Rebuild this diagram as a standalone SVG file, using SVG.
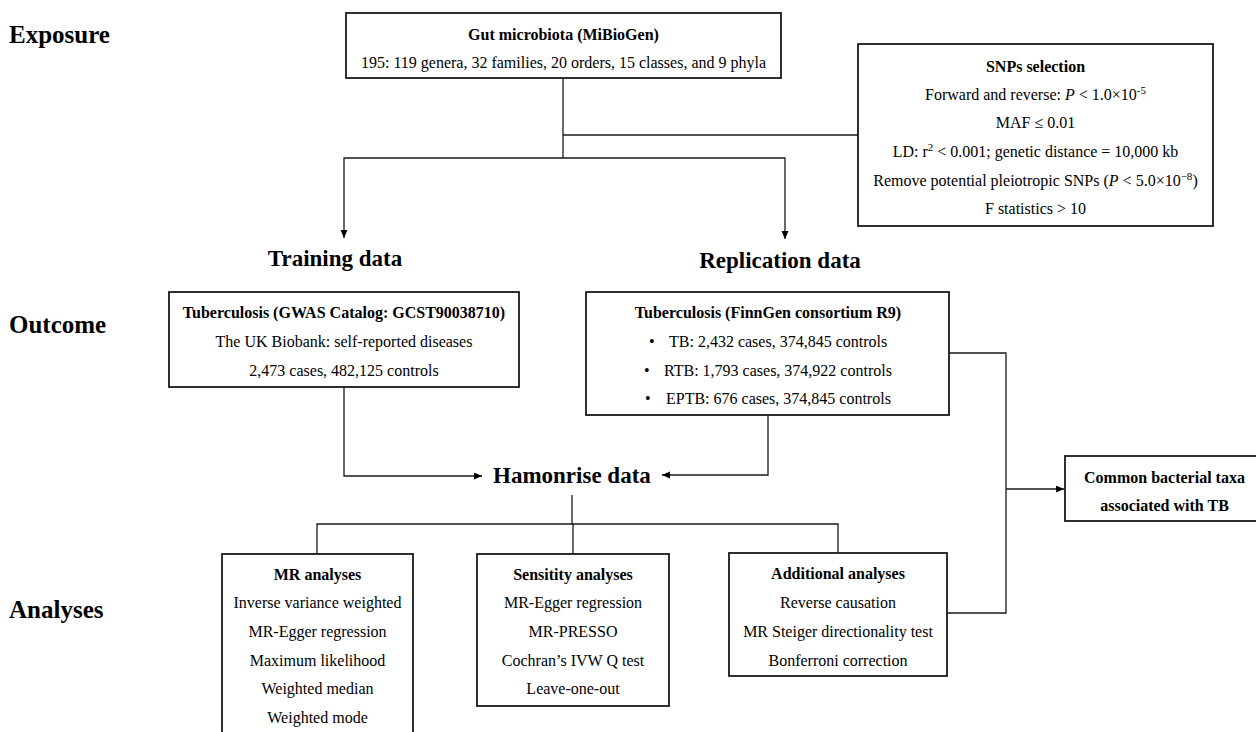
<svg xmlns="http://www.w3.org/2000/svg" width="1256" height="732" viewBox="0 0 1256 732">
<style>
text{font-family:"Liberation Serif","Times New Roman",serif;fill:#000}
.sec{font-size:25px;font-weight:bold}
.hd{font-size:23px;font-weight:bold}
.t{font-size:16px;font-weight:bold;text-anchor:middle}
.b{font-size:16px;text-anchor:middle}
.bl{font-size:16px}
.box{fill:#fff;stroke:#1a1a1a;stroke-width:1.8}
.c{fill:none;stroke:#1a1a1a;stroke-width:1.3}
</style>
<defs>
<marker id="ah" markerUnits="userSpaceOnUse" markerWidth="9" markerHeight="8" refX="8" refY="3.5" orient="auto">
<path d="M0,0 L8,3.5 L0,7 z" fill="#000"/>
</marker>
</defs>
<rect width="1256" height="732" fill="#fff"/>

<g id="labels">
<text class="sec" x="9" y="43">Exposure</text>
<text class="sec" x="9" y="333">Outcome</text>
<text class="sec" x="9" y="618">Analyses</text>
<text class="hd" x="335" y="266" text-anchor="middle">Training data</text>
<text class="hd" x="780" y="268" text-anchor="middle">Replication data</text>
</g>

<g id="connectors">
<path class="c" d="M563,78 V158"/>
<path class="c" d="M563,135 H858"/>
<path class="c" d="M563,158 H344 V238" marker-end="url(#ah)"/>
<path class="c" d="M563,158 H785 V239" marker-end="url(#ah)"/>
<path class="c" d="M344,387 V476 H482" marker-end="url(#ah)"/>
<path class="c" d="M768,415 V475 H662" marker-end="url(#ah)"/>
<path class="c" d="M572,495 V524"/>
<path class="c" d="M317,554 V524 H838 V553"/>
<path class="c" d="M573,524 V554"/>
<path class="c" d="M949,353 H1006 V613 H947"/>
<path class="c" d="M1006,489 H1064" marker-end="url(#ah)"/>
</g>

<g id="gut">
<rect class="box" x="346" y="13" width="435" height="65"/>
<text class="t" x="563.5" y="40">Gut microbiota (MiBioGen)</text>
<text class="b" x="563.5" y="68">195: 119 genera, 32 families, 20 orders, 15 classes, and 9 phyla</text>
</g>

<g id="snps">
<rect class="box" x="858" y="44" width="355" height="182"/>
<text class="t" x="1035.5" y="72">SNPs selection</text>
<text class="b" x="1035.5" y="100">Forward and reverse: <tspan font-style="italic">P</tspan> &lt; 1.0×10<tspan font-size="11" dy="-6">-5</tspan></text>
<text class="b" x="1035.5" y="128">MAF ≤ 0.01</text>
<text class="b" x="1035.5" y="157">LD: r<tspan font-size="11" dy="-6">2</tspan><tspan dy="6"> &lt; 0.001; genetic distance = 10,000 kb</tspan></text>
<text class="b" x="1035.5" y="186">Remove potential pleiotropic SNPs (<tspan font-style="italic">P</tspan> &lt; 5.0×10<tspan font-size="11" dy="-6">−8</tspan><tspan dy="6">)</tspan></text>
<text class="b" x="1035.5" y="214">F statistics &gt; 10</text>
</g>

<g id="training">
<rect class="box" x="169" y="292" width="350" height="95"/>
<text class="t" x="344" y="318">Tuberculosis (GWAS Catalog: GCST90038710)</text>
<text class="b" x="344" y="347">The UK Biobank: self-reported diseases</text>
<text class="b" x="344" y="376">2,473 cases, 482,125 controls</text>
</g>

<g id="replication">
<rect class="box" x="586" y="292" width="363" height="123"/>
<text class="t" x="768" y="318">Tuberculosis (FinnGen consortium R9)</text>
<text class="bl" x="649" y="347">•</text>
<text class="bl" x="669" y="347">TB: 2,432 cases, 374,845 controls</text>
<text class="bl" x="644" y="376">•</text>
<text class="bl" x="664" y="376">RTB: 1,793 cases, 374,922 controls</text>
<text class="bl" x="645" y="404">•</text>
<text class="bl" x="666" y="404">EPTB: 676 cases, 374,845 controls</text>
</g>

<g id="harmonise">
<text class="hd" x="493" y="483">Hamonrise data</text>
</g>

<g id="common">
<rect class="box" x="1065" y="456" width="200" height="65"/>
<text class="t" x="1164.5" y="483">Common bacterial taxa</text>
<text class="t" x="1164.5" y="511">associated with TB</text>
</g>

<g id="mr">
<rect class="box" x="222" y="554" width="191" height="190"/>
<text class="t" x="317.5" y="580">MR analyses</text>
<text class="b" x="317.5" y="608">Inverse variance weighted</text>
<text class="b" x="317.5" y="637">MR-Egger regression</text>
<text class="b" x="317.5" y="666">Maximum likelihood</text>
<text class="b" x="317.5" y="694">Weighted median</text>
<text class="b" x="317.5" y="723">Weighted mode</text>
</g>

<g id="sensitivity">
<rect class="box" x="477" y="554" width="192" height="152"/>
<text class="t" x="573" y="580">Sensitity analyses</text>
<text class="b" x="573" y="608">MR-Egger regression</text>
<text class="b" x="573" y="637">MR-PRESSO</text>
<text class="b" x="573" y="666">Cochran’s IVW Q test</text>
<text class="b" x="573" y="694">Leave-one-out</text>
</g>

<g id="additional">
<rect class="box" x="729" y="553" width="218" height="123"/>
<text class="t" x="838" y="579">Additional analyses</text>
<text class="b" x="838" y="608">Reverse causation</text>
<text class="b" x="838" y="637">MR Steiger directionality test</text>
<text class="b" x="838" y="666">Bonferroni correction</text>
</g>
</svg>
